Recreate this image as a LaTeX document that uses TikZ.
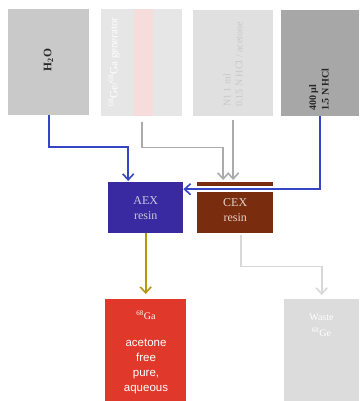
\documentclass[tikz,border=0pt]{standalone}
\usepackage{fontspec}
\setmainfont{Liberation Serif}
\newfontfamily\arialfont{Liberation Sans}
\usetikzlibrary{arrows.meta,calc}
\definecolor{boxA}{HTML}{C9C9C9}
\definecolor{boxGen}{HTML}{E6E6E6}
\definecolor{genStripe}{HTML}{F6DCDA}
\definecolor{boxN}{HTML}{E0E0E0}
\definecolor{txtN}{HTML}{C8C8C8}
\definecolor{boxHCl}{HTML}{A7A7A7}
\definecolor{aexCol}{HTML}{3A2AA2}
\definecolor{aexTxt}{HTML}{C8C8DC}
\definecolor{cexCol}{HTML}{7A2D0E}
\definecolor{cexTxt}{HTML}{E2D2CA}
\definecolor{gaCol}{HTML}{E0382A}
\definecolor{wasteCol}{HTML}{DCDCDC}
\definecolor{blueArr}{HTML}{3446C4}
\definecolor{goldArr}{HTML}{B8960E}
\definecolor{grayArr}{HTML}{ABABAB}
\definecolor{lgArr}{HTML}{D8D8D8}
\tikzset{
  box/.style={draw=none, inner sep=0pt, anchor=north west},
  rtext/.style={rotate=90, inner sep=0pt, font=\fontsize{10}{12}\selectfont, align=left},
  arr/.style={line width=2pt, -{Straight Barb[length=6pt,width=11pt,line width=1.6pt]}},
}
\begin{document}
\begin{tikzpicture}[x=1pt,y=-1pt]
\useasboundingbox (0,0) rectangle (359,401);
% top boxes
\node[box, fill=boxA, minimum width=81pt, minimum height=106pt] (h2o) at (8,9) {};
\node[box, fill=boxGen, minimum width=81pt, minimum height=107pt] (gen) at (101,9) {};
\fill[genStripe] (134,9) rectangle (153,116);
\node[box, fill=boxN, minimum width=80pt, minimum height=106pt] (nb) at (193,10) {};
\node[box, fill=boxHCl, minimum width=78pt, minimum height=106pt] (hcl) at (281,10) {};
% texts in top boxes
\node[rtext, font=\fontsize{11.5}{13}\selectfont\bfseries, text=black!85] (h2ot) at (48.5,60) {H\textsubscript{2}O};
\node[rtext, anchor=west, font=\fontsize{11}{13}\selectfont, text=white] (gent) at (114,107) {\textsuperscript{68}Ge/\textsuperscript{68}Ga generator};
\node[rtext, anchor=west, text=txtN] (nbt) at (233,107) {N1 1 ml\\0.15 N HCl / acetone};
\node[rtext, anchor=west, font=\fontsize{10}{12.5}\selectfont\bfseries, text=black!85] (hclt) at (319,111) {400 µl\\1.5 N HCl};
% resin boxes
\node[box, fill=aexCol, minimum width=75pt, minimum height=51pt, align=center, text=aexTxt,
  font=\fontsize{12}{15}\selectfont] (aex) at (108,182) {AEX\\resin};
\node[box, fill=cexCol, minimum width=76pt, minimum height=51pt, align=center, text=cexTxt,
  font=\fontsize{12}{15}\selectfont, text depth=0pt] (cex) at (197,182) {\rule{0pt}{12pt}CEX\\resin};
% bottom boxes
\node[box, fill=gaCol, minimum width=81pt, minimum height=102pt] (ga) at (105,299) {};
\node[text=white, inner sep=0pt, font=\fontsize{10}{12}\selectfont] (gat) at (146,315) {\textsuperscript{68}Ga};
\node[text=white, inner sep=0pt, align=center, font=\arialfont\fontsize{11.5}{15}\selectfont] (gat2) at (146,366) {acetone\\free\\pure,\\aqueous};
\node[box, fill=wasteCol, minimum width=75pt, minimum height=102pt] (waste) at (284,299) {};
\node[text=white, inner sep=0pt, align=center, font=\fontsize{10}{16}\selectfont] (wastet) at (321.5,325) {Waste\\\textsuperscript{68}Ge};
% connectors
\draw[arr, blueArr] (h2o.south) -- ++(0,32) -| ([xshift=-17.5pt,yshift=1pt]aex.north);
\draw[arr, grayArr, line width=1.8pt] ([yshift=-6pt]gen.south) -- ++(0,25) -| ([xshift=-12pt,yshift=2pt]cex.north);
\draw[arr, grayArr, line width=1.8pt] ([yshift=-4pt]nb.south) -- ([yshift=2pt]nb.south |- cex.north);
\draw[arr, blueArr, preaction={draw=white, line width=6.5pt, -}] (hcl.south) |- ([yshift=18.5pt]aex.east);
\draw[arr, goldArr, line width=1.8pt] (aex.south) -- ([yshift=5pt]ga.north);
\draw[arr, lgArr, line width=1.8pt] ([xshift=6pt,yshift=-2pt]cex.south) -- ++(0,31) -| ([yshift=4pt]waste.north);
\end{tikzpicture}
\end{document}
